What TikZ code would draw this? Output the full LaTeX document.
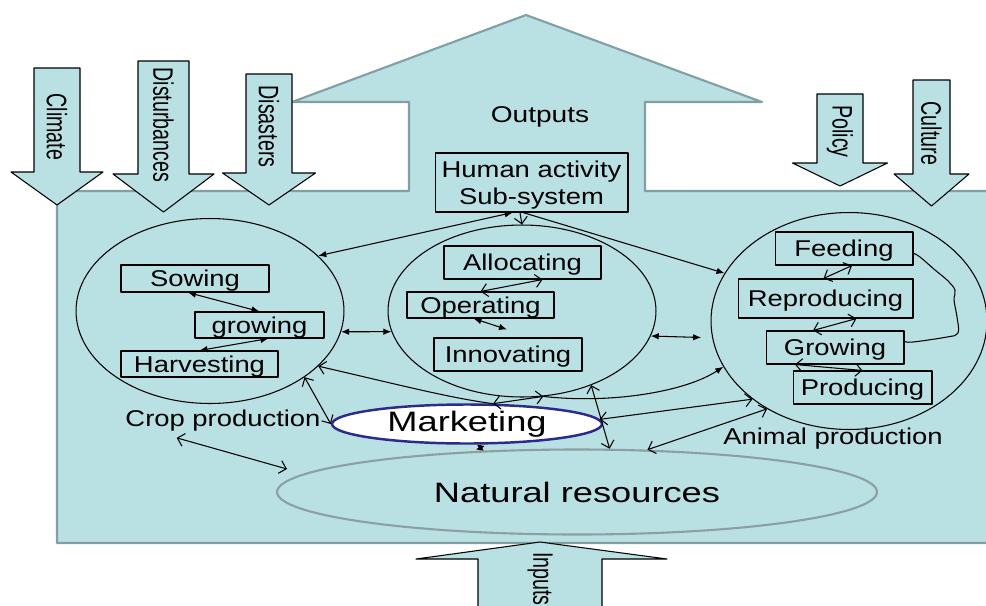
\documentclass[tikz,border=0pt]{standalone}
\usepackage{fontspec}
\setmainfont{Liberation Sans}
\usetikzlibrary{arrows.meta,shapes.geometric,calc}

\definecolor{bodyblue}{RGB}{185,224,227}
\definecolor{bodyedge}{RGB}{128,160,164}
\definecolor{mktblue}{RGB}{43,43,140}
\definecolor{natedge}{RGB}{138,160,163}

% the drawing is stretched sideways: wide text
\newcommand{\sttx}[2][1.2]{\scalebox{#1}[1]{#2}}

\tikzset{
  procbox/.style={draw, line width=0.6pt, inner sep=0pt, text depth=0pt, font=\fontsize{13pt}{16pt}\selectfont},
  subsys/.style={ellipse, draw, line width=0.6pt, inner sep=0pt},
  sidelab/.style={rotate=-90, inner sep=0pt, font=\fontsize{16pt}{19pt}\selectfont},
  biglab/.style={font=\fontsize{16pt}{19pt}\selectfont},
  plainlab/.style={font=\fontsize{13pt}{16pt}\selectfont},
  lnk/.style={line width=0.6pt},
  fil/.tip={Latex[length=1.6mm,width=1.3mm]},
  fsm/.tip={Latex[length=1.1mm,width=1.6mm]},
  opn/.tip={Straight Barb[length=1.3mm,width=2.6mm]},
}

\begin{document}
\begin{tikzpicture}[x=0.02cm, y=-0.02cm, line join=round]
\useasboundingbox (0,0) rectangle (986,605);
% system boundary with the outputs arrow
\draw[fill=bodyblue, draw=bodyedge, line width=1.2pt]
  (57,191) -- (409,191) -- (409,102) -- (292,102) -- (526,15) -- (762,102)
  -- (645,102) -- (645,191) -- (992,191) -- (992,543) -- (57,543) -- cycle;
\node[plainlab] (outputs) at (540,117) {\sttx[1.23]{Outputs}};

% external influences
\foreach \cx/\w/\t/\h/\hw/\p in {57/23/68/172/46/205, 163.5/25.5/61/174/50.5/212,
    269/23/74/173/46.5/205, 840/23/94/163/47.5/186, 931.5/18.5/80/174/37.5/206}
  \draw[fill=bodyblue, line width=0.6pt] (\cx-\w,\t) -- (\cx+\w,\t) -- (\cx+\w,\h)
    -- (\cx+\hw,\h) -- (\cx,\p) -- (\cx-\hw,\h) -- (\cx-\w,\h) -- cycle;
\node[sidelab] (climate) at (57,127) {\sttx[0.7]{Climate}};
\node[sidelab] (disturb) at (163.5,125) {\sttx[0.7]{Disturbances}};
\node[sidelab] (disast) at (269,126.5) {\sttx[0.7]{Disasters}};
\node[sidelab] (policy) at (840,131.5) {\sttx[0.7]{Policy}};
\node[sidelab] (culture) at (931.5,133.5) {\sttx[0.7]{Culture}};

% inputs arrow
\draw[fill=bodyblue, line width=0.6pt] (478,612) -- (478,559) -- (416,559) -- (540,542)
  -- (667,559) -- (602,559) -- (602,612) -- cycle;
\node[sidelab] (inputs) at (540,579) {\sttx[0.7]{Inputs}};

% sub-systems
\node[subsys, minimum width=5.36cm, minimum height=3.7cm] (crop) at (210,311) {};
\node[subsys, minimum width=5.36cm, minimum height=3.44cm] (act) at (522,311) {};
\node[subsys, minimum width=5.52cm, minimum height=4.34cm] (ani) at (849,321) {};
\node[ellipse, draw=mktblue, line width=1.4pt, fill=white, inner sep=0pt,
  minimum width=5.4cm, minimum height=0.78cm,
  label={[biglab]center:{\sttx[1.29]{Marketing}}}] (mkt) at (467,424) {};
\node[ellipse, draw=natedge, line width=1.2pt, inner sep=0pt, biglab,
  minimum width=12cm, minimum height=1.7cm] (nat) at (577,492) {\sttx[1.29]{Natural resources}};

\node[procbox, align=center, minimum width=3.86cm, minimum height=1.18cm,
  font=\fontsize{13pt}{15.3pt}\selectfont] (hum) at (531.5,182.5)
  {\sttx{Human activity}\\\sttx{Sub-system}};

\node[procbox, minimum width=2.96cm, minimum height=0.54cm] (sow) at (195,278.5) {\sttx{Sowing}};
\node[procbox, minimum width=2.58cm, minimum height=0.52cm] (grow) at (259.5,325) {\sttx{growing}};
\node[procbox, minimum width=3.14cm, minimum height=0.52cm] (harv) at (199.5,364) {\sttx{Harvesting}};

\node[procbox, minimum width=3.14cm, minimum height=0.66cm] (alloc) at (522.5,262.5) {\sttx{Allocating}};
\node[procbox, minimum width=2.94cm, minimum height=0.52cm] (oper) at (480.5,305) {\sttx{Operating}};
\node[procbox, minimum width=2.96cm, minimum height=0.66cm] (innov) at (508,354.5) {\sttx{Innovating}};

\node[procbox, minimum width=2.76cm, minimum height=0.66cm] (feed) at (844,248.5) {\sttx{Feeding}};
\node[procbox, minimum width=3.5cm, minimum height=0.78cm] (repro) at (825.5,298.5) {\sttx{Reproducing}};
\node[procbox, minimum width=2.76cm, minimum height=0.66cm] (grw) at (835,347.5) {\sttx{Growing}};
\node[procbox, minimum width=2.78cm, minimum height=0.66cm] (prod) at (862.5,387.5) {\sttx{Producing}};

\node[plainlab] (croplab) at (223,421) {\sttx{Crop production}};
\node[plainlab] (anilab) at (833,439) {\sttx{Animal production}};

% links inside the sub-systems
\draw[lnk, fil-fil] ($(sow.south)+(-7,0)$) -- (grow.north);
\draw[lnk, fil-fil] ($(grow.south)+(9,0)$) -- (harv.north);
\draw[lnk, opn-opn] ($(alloc.south)+(20,0)$) -- (oper.north);
\draw[lnk, fil-fil] ($(oper.south)+(-7,0)$) -- ($(innov.north)+(-1,-8)$);
\draw[lnk, opn-opn] ($(feed.south)+(8,0)$) -- ($(repro.north)+(-2,0)$);
\draw[lnk, opn-opn] ($(repro.south)+(31,0)$) -- ($(grw.north)+(-22,0)$);
\draw[lnk, opn-opn] ($(grw.south)+(-40,0)$) -- (prod.north);
\draw[lnk] plot[smooth, tension=0.6] coordinates {(feed.-4) (920,257) (935,270) (947,280)
  (955,290) (954,300) (957,317) (958,333) (947,337) (913,342) (grw.5)};

% links between the sub-systems
\draw[lnk, fil-fil] (hum.-122) -- (crop.27);
\draw[lnk, -opn] (hum.-111) -- (act.north);
\draw[lnk, -fil] (hum.-106) -- (ani.159);
\draw[lnk, fil-fil] (crop.-9) -- (act.-171);
\draw[lnk, fil-fil, shorten >=0.22cm] (act.-11) -- (ani.187);
\draw[lnk, opn-opn] (crop.-35) -- (mkt.west);
\draw[lnk, opn-] (crop.-27) .. controls (400,385) and (450,398) .. (mkt.38);
\draw[lnk, opn-opn] (mkt.38) -- (act.-76);
\draw[lnk, -fil] (act.-76) .. controls (610,404) and (685,392) .. (ani.200);
\draw[lnk, opn-opn] (act.-47) -- (nat.53);
\draw[lnk, opn-opn] (ani.219) -- (mkt.2);
\draw[lnk, opn-opn] (ani.227) -- (nat.31);
\coordinate (natw) at (287,469);
\draw[lnk, opn-opn] (croplab.-160) -- (natw);
\draw[lnk, fsm-fsm] (mkt.-56) -- (nat.157);
\end{tikzpicture}
\end{document}
